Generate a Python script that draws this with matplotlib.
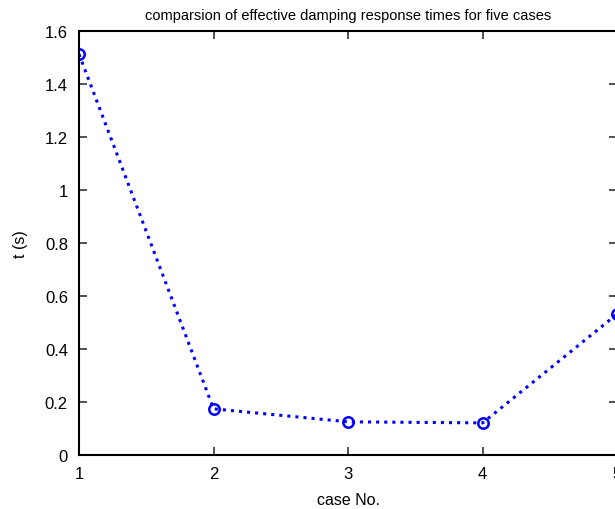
import matplotlib
matplotlib.use("Agg")
import matplotlib.pyplot as plt

cases = [1, 2, 3, 4, 5]
times = [1.513, 0.174, 0.125, 0.121, 0.532]
yticks = [0, 0.2, 0.4, 0.6, 0.8, 1, 1.2, 1.4, 1.6]
ytick_labels = ["0", "0.2", "0.4", "0.6", "0.8", "1", "1.2", "1.4", "1.6"]

plt.rcParams["font.family"] = ["Liberation Sans", "DejaVu Sans"]

fig = plt.figure(figsize=(6.15, 5.10), dpi=100)
ax = fig.add_axes([0.1285, 0.106, 0.875, 0.831])

ax.plot(cases, times, linestyle=":", color="#0000ff", linewidth=2.2,
        marker="o", markersize=7.5, markerfacecolor="none",
        markeredgecolor="#0000ff", markeredgewidth=1.8)

ax.set_xlim(1, 5)
ax.set_ylim(0, 1.6)
ax.set_xticks(cases)
ax.set_yticks(yticks)
ax.set_yticklabels(ytick_labels)
ax.tick_params(direction="in", top=True, right=True, labelsize=12,
               length=6, width=1.2, pad=8, color="#333333")
for s in ax.spines.values():
    s.set_linewidth(1.5)

ax.set_xlabel("case No.", fontsize=11.5, labelpad=8)
ax.set_ylabel("t (s)", fontsize=11.5, labelpad=12)
ax.set_title("comparsion of effective damping response times for five cases",
             fontsize=10.5, pad=9)

fig.savefig("out.png", dpi=100)
